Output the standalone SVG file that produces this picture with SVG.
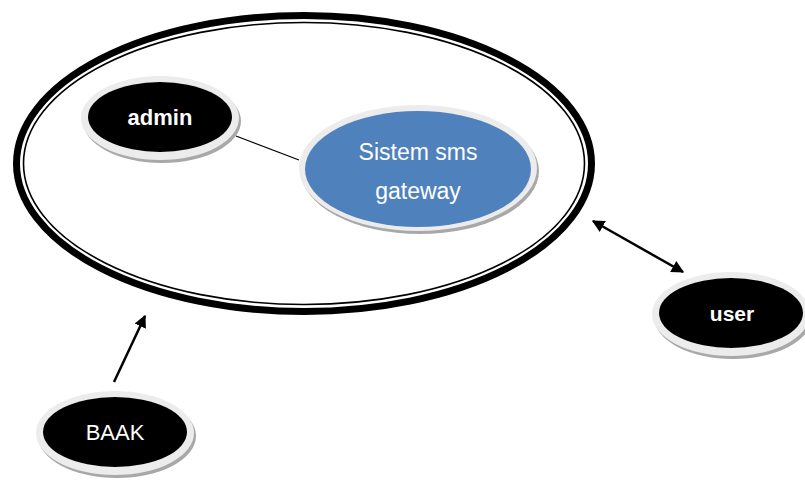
<svg xmlns="http://www.w3.org/2000/svg" width="805" height="481" viewBox="0 0 805 481">
<defs>
<style>
.shadow{fill:#a8a8a8}
.ring{fill:#ececec}
.actor{fill:#000}
.sys{fill:#4f81bd}
.lbl{font-family:"Liberation Sans",Arial,sans-serif;fill:#fff;text-anchor:middle}
.b{font-weight:bold}
.conn{stroke:#000;fill:none}
</style>
<marker id="ah" viewBox="0 0 10 10" refX="9" refY="5" markerWidth="5" markerHeight="5" orient="auto-start-reverse" markerUnits="strokeWidth">
<path d="M0,0 L10,5 L0,10 z" fill="#000"/>
</marker>
</defs>
<rect width="805" height="481" fill="#fff"/>
<g id="boundary">
<ellipse cx="304" cy="163.5" rx="287.5" ry="148" fill="#fff" stroke="#000" stroke-width="7"/>
<ellipse cx="304" cy="163.5" rx="280.5" ry="141" fill="none" stroke="#000" stroke-width="1.6"/>
</g>
<g id="connectors">
<line class="conn" x1="236" y1="136" x2="299" y2="160" stroke-width="1.2"/>
<line class="conn" x1="593" y1="221" x2="683" y2="272" stroke-width="2.5" marker-start="url(#ah)" marker-end="url(#ah)"/>
<line class="conn" x1="114" y1="382" x2="145" y2="316" stroke-width="2.5" marker-end="url(#ah)"/>
</g>
<g id="admin">
<ellipse class="shadow" cx="162" cy="121" rx="79" ry="42"/>
<ellipse class="ring" cx="160" cy="118" rx="79" ry="42"/>
<ellipse class="actor" cx="160" cy="117" rx="72" ry="35"/>
<text class="lbl b" x="160" y="125" font-size="22">admin</text>
</g>
<g id="sistem">
<ellipse class="shadow" cx="420" cy="171" rx="119" ry="63"/>
<ellipse class="ring" cx="418" cy="168" rx="119" ry="63"/>
<ellipse class="sys" cx="418" cy="169" rx="113" ry="58"/>
<text class="lbl" x="418" y="160" font-size="23">Sistem sms</text>
<text class="lbl" x="418" y="199" font-size="23">gateway</text>
</g>
<g id="user">
<ellipse class="shadow" cx="733" cy="317" rx="79" ry="42"/>
<ellipse class="ring" cx="731" cy="314" rx="79" ry="42"/>
<ellipse class="actor" cx="731" cy="313" rx="72" ry="35"/>
<text class="lbl b" x="732" y="321" font-size="21">user</text>
</g>
<g id="baak">
<ellipse class="shadow" cx="117" cy="436" rx="79" ry="42"/>
<ellipse class="ring" cx="115" cy="433" rx="79" ry="42"/>
<ellipse class="actor" cx="115" cy="432" rx="72" ry="35"/>
<text class="lbl" x="115" y="440" font-size="22">BAAK</text>
</g>
</svg>
